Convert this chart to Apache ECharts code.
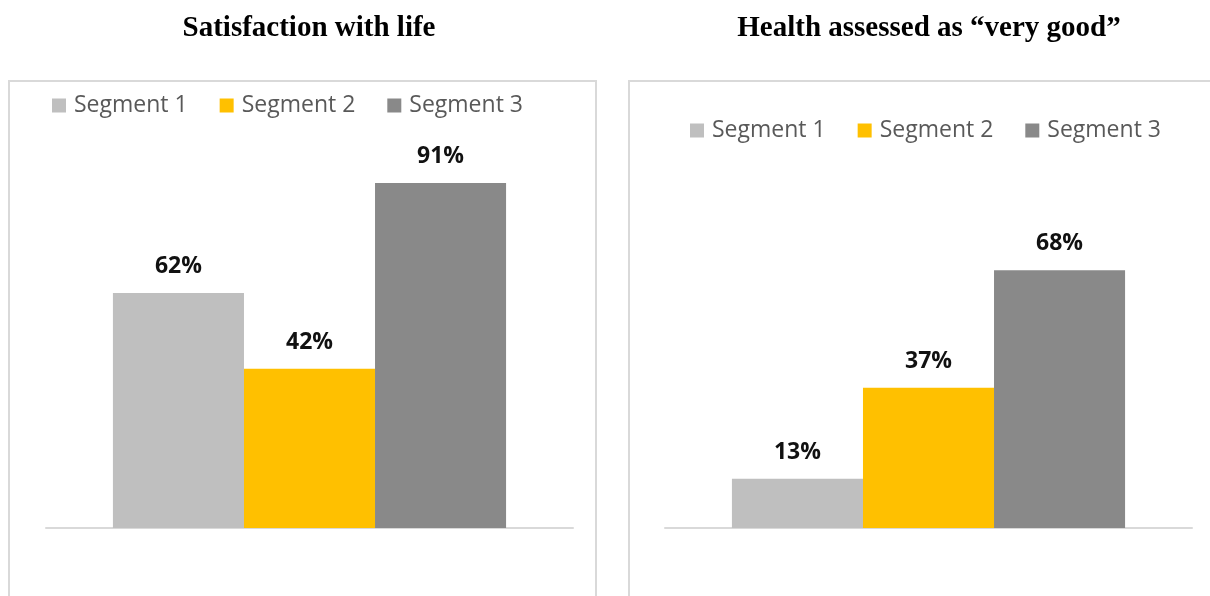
<!DOCTYPE html>
<html lang="en">
<head>
  <meta charset="UTF-8">
  <title>Segments</title>
  <style>
    html,
    body {
      padding: 0;
      margin: 0;
      background: #fff;
    }
  </style>
  <script src="https://cdn.jsdelivr.net/npm/echarts@6/dist/echarts.min.js"></script>
</head>
<body>
  <div id="demo" style="width:1210px;height:596px"></div>
  <script>
    const titles = ['Satisfaction with life', 'Health assessed as \u201cvery good\u201d']
    const segments = ['Segment 1', 'Segment 2', 'Segment 3']
    const colors = ['#bfbfbf', '#ffc000', '#898989']
    // one value per segment, per panel (percent)
    const lifeValues = [62, 42, 91]
    const healthValues = [13, 37, 68]
    const panelValues = [lifeValues, healthValues]

    const chart = echarts.init(document.getElementById('demo'))

    const grids = [
      { left: 46, width: 527, top: 149, height: 379 },
      { left: 665, width: 527, top: 149, height: 379 }
    ]

    const series = []
    panelValues.forEach((vals, p) => {
      segments.forEach((name, i) => {
        series.push({
          name: name,
          type: 'bar',
          xAxisIndex: p,
          yAxisIndex: p,
          barGap: 0,
          barCategoryGap: '25.4%',
          itemStyle: { color: colors[i] },
          label: {
            show: true,
            position: 'top',
            distance: 15,
            formatter: '{c}%',
            color: '#111',
            fontWeight: 'bold',
            fontSize: 23,
            fontFamily: 'Open Sans'
          },
          data: [vals[i]]
        })
      })
    })

    const legendStyle = {
      data: segments,
      icon: 'rect',
      padding: 0,
      itemWidth: 14,
      itemHeight: 14,
      itemGap: 32,
      textStyle: { color: '#595959', fontSize: 23, fontFamily: 'Open Sans', padding: [0, 0, 0, 3] }
    }

    const titleText = { fontFamily: 'Liberation Serif', fontWeight: 'bold', fontSize: 29, color: '#000' }

    chart.setOption({
      animation: false,
      title: [
        { text: titles[0], left: 304, top: 9, textAlign: 'center', textStyle: titleText },
        { text: titles[1], left: 924, top: 9, textAlign: 'center', textStyle: titleText }
      ],
      legend: [
        Object.assign({ left: 52, top: 94 }, legendStyle),
        Object.assign({ left: 690, top: 119 }, legendStyle)
      ],
      graphic: [
        { type: 'rect', shape: { x: 9, y: 81, width: 587, height: 530 },
          style: { fill: 'none', stroke: '#d9d9d9', lineWidth: 2 }, z: -1 },
        { type: 'rect', shape: { x: 629, y: 81, width: 600, height: 530 },
          style: { fill: 'none', stroke: '#d9d9d9', lineWidth: 2 }, z: -1 }
      ],
      grid: grids,
      xAxis: grids.map((g, i) => ({
        type: 'category',
        gridIndex: i,
        data: [''],
        axisTick: { show: false },
        axisLabel: { show: false },
        axisLine: { lineStyle: { color: '#d9d9d9', width: 2 } }
      })),
      yAxis: grids.map((g, i) => ({
        type: 'value',
        gridIndex: i,
        min: 0,
        max: 100,
        show: false,
        splitLine: { show: false }
      })),
      series: series
    })
  </script>
</body>
</html>
